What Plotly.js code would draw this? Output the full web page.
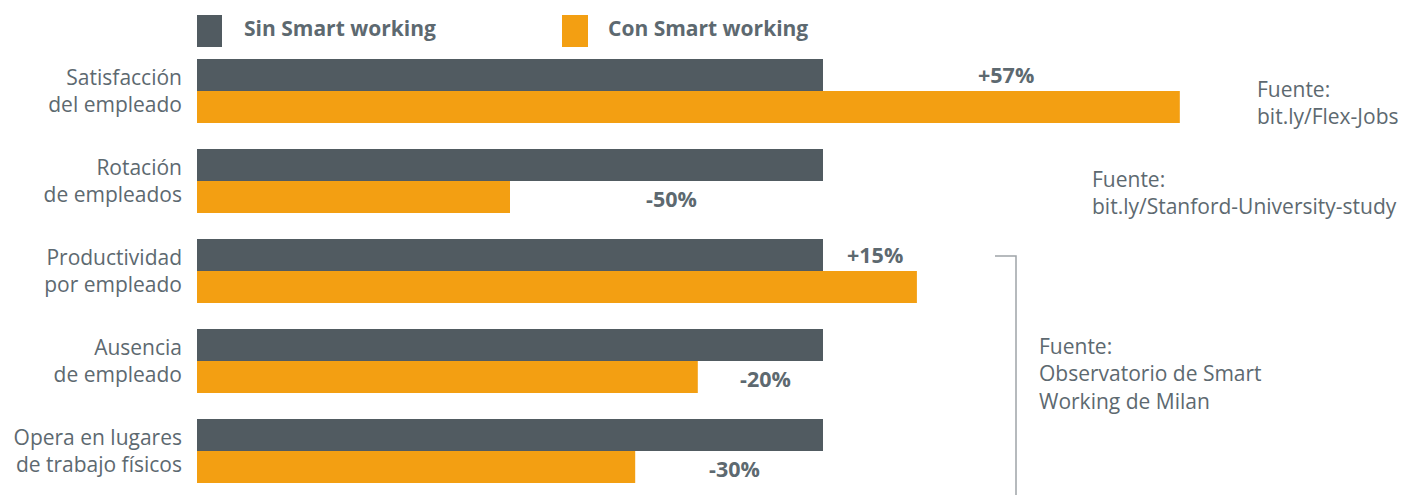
<!DOCTYPE html>
<html>
<head>
<meta charset="utf-8">
<script src="https://cdn.plot.ly/plotly-3.0.1.min.js"></script>
<style>html,body{margin:0;padding:0;background:#fff;}#chart{width:1405px;height:495px;}</style>
</head>
<body>
<div id="chart"></div>
<script>
const categories = [
  'Satisfacción<br>del empleado',
  'Rotación<br>de empleados',
  'Productividad<br>por empleado',
  'Ausencia<br>de empleado',
  'Opera en lugares<br>de trabajo físicos'
];
const seriesNames = ['Sin Smart working', 'Con Smart working'];
const sinSmart = [100, 100, 100, 100, 100];
const conSmart = [157, 50, 115, 80, 70];
const sources = [
  'Fuente:<br>bit.ly/Flex-Jobs',
  'Fuente:<br>bit.ly/Stanford-University-study',
  'Fuente:<br>Observatorio de Smart<br>Working de Milan'
];

const DARK = '#515b61';
const ORANGE = '#f39f12';
const TEXT = '#5d6970';
const FONT = 'Open Sans, sans-serif';

const L = 197, W = 1208, T = 46, H = 449;
const px = v => (v - L) / W;
const py = v => 1 - (v - T) / H;

const traces = [
  {type:'bar', orientation:'h', name:seriesNames[0], y:categories, x:sinSmart,
   marker:{color:DARK}, hoverinfo:'skip'},
  {type:'bar', orientation:'h', name:seriesNames[1], y:categories, x:conSmart,
   marker:{color:ORANGE}, hoverinfo:'skip'}
];

const annotations = [];
categories.forEach((c, i) => {
  const d = conSmart[i] - sinSmart[i];
  const txt = (d > 0 ? '+' : '') + d + '%';
  annotations.push({
    x: (conSmart[i] + sinSmart[i]) / 2, y: c, xref:'x', yref:'y',
    text: '<b>' + txt + '</b>', showarrow:false, xanchor:'center', yanchor:'middle',
    xshift: 5, yshift: d > 0 ? 17 : -17,
    font:{family:FONT, size:21.5, color:TEXT}
  });
});

// legend labels
annotations.push({xref:'paper', yref:'paper', x:px(242), y:py(28), xanchor:'left', yanchor:'middle',
  text:'<b>' + seriesNames[0] + '</b>', showarrow:false, font:{family:FONT, size:21, color:TEXT}});
annotations.push({xref:'paper', yref:'paper', x:px(606), y:py(28), xanchor:'left', yanchor:'middle',
  text:'<b>' + seriesNames[1] + '</b>', showarrow:false, font:{family:FONT, size:21, color:TEXT}});

// sources
const srcPos = [[1255, 102], [1090, 193], [1037, 373]];
sources.forEach((s, i) => {
  annotations.push({xref:'paper', yref:'paper', x:px(srcPos[i][0]), y:py(srcPos[i][1]),
    xanchor:'left', yanchor:'middle', align:'left', text:s, showarrow:false,
    font:{family:FONT, size:21, color:TEXT}});
});

const shapes = [
  {type:'rect', xref:'paper', yref:'paper', x0:px(197), x1:px(222), y0:py(47), y1:py(15),
   fillcolor:DARK, line:{width:0}},
  {type:'rect', xref:'paper', yref:'paper', x0:px(562), x1:px(588), y0:py(47), y1:py(15),
   fillcolor:ORANGE, line:{width:0}},
  {type:'path', xref:'paper', yref:'paper',
   path:'M ' + px(995) + ' ' + py(256) + ' L ' + px(1016) + ' ' + py(256) + ' L ' + px(1016) + ' ' + py(496),
   line:{color:'#9ea4a8', width:1.5}}
];

const layout = {
  width:1405, height:495,
  margin:{l:L, r:0, t:T, b:0},
  paper_bgcolor:'#ffffff', plot_bgcolor:'#ffffff',
  barmode:'group', bargap:26/90, bargroupgap:0,
  showlegend:false,
  font:{family:FONT, color:TEXT},
  xaxis:{range:[0, W/6.26], showgrid:false, zeroline:false, showticklabels:false, showline:false, fixedrange:true},
  yaxis:{type:'category', range:[-0.5 + H/90, -0.5], showgrid:false, zeroline:false, showline:false,
    ticks:'', ticklabelstandoff:14, tickfont:{family:FONT, size:21, color:TEXT}, fixedrange:true},
  annotations:annotations,
  shapes:shapes
};

Plotly.newPlot('chart', traces, layout, {displayModeBar:false, staticPlot:true});
</script>
</body>
</html>
